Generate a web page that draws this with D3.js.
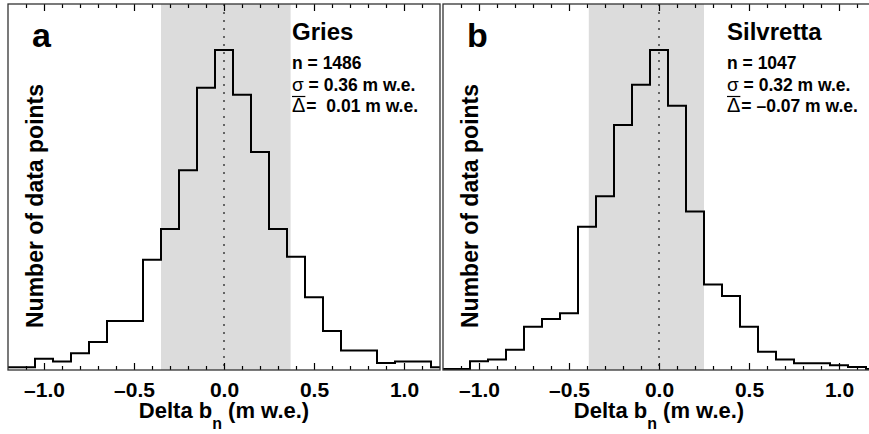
<!DOCTYPE html>
<html>
<head>
<meta charset="utf-8">
<script src="https://cdn.jsdelivr.net/npm/d3@7"></script>
<style>
  body { margin: 0; background: #fff; }
  svg { display: block; }
  text { font-family: "Liberation Sans", Arial, Helvetica, sans-serif; font-weight: bold; fill: #000; }
</style>
</head>
<body>
<div id="chart-area"></div>
<script>
// histogram bins (centres, m w.e.), 0.1 wide
var binCenters = [-1.0, -0.9, -0.8, -0.7, -0.6, -0.5, -0.4, -0.3, -0.2, -0.1, 0.0,
                  0.1, 0.2, 0.3, 0.4, 0.5, 0.6, 0.7, 0.8, 0.9, 1.0, 1.1];
var griesCounts = [6, 4, 10, 18, 33, 33, 77, 99, 141, 200, 227,
                   195, 154, 99, 79, 50, 26, 12, 12, 3, 4, 4];
var silvrettaCounts = [4, 5, 10, 22, 26, 29, 74, 90, 127, 148, 166,
                       137, 82, 44, 38, 22, 9, 5, 3, 3, 2, 1];

var panelLetters = ["a", "b"];
var glacierNames = ["Gries", "Silvretta"];
var nPoints = ["1486", "1047"];
var sigmas = [0.36, 0.32];
var means = [0.01, -0.07];
var meanLabels = ["\u00a0\u00a00.01", "\u00a0\u20130.07"];

var majorTicks = [-1.0, -0.5, 0.0, 0.5, 1.0];
var minorTicks = [-1.1, -0.9, -0.8, -0.7, -0.6, -0.4, -0.3, -0.2, -0.1,
                  0.1, 0.2, 0.3, 0.4, 0.6, 0.7, 0.8, 0.9, 1.1];

var xDomain = [-1.2, 1.2];
var yDomains = [[-2, 260], [-0.5, 190]];

// layout
var plotTop = 4, plotBottom = 370, panelWidth = 432;
var panelLefts = [8, 443];

var svg = d3.select("#chart-area").append("svg")
  .attr("width", 869)
  .attr("height", 434);

var fmt = function(d) { return d3.format(".1f")(d).replace("\u2212", "\u2013"); };

function drawPanel(i, counts) {
  var left = panelLefts[i];
  var x = d3.scaleLinear().domain(xDomain).range([left, left + panelWidth]);
  var y = d3.scaleLinear().domain(yDomains[i]).range([plotBottom, plotTop]);

  var g = svg.append("g");

  // +/- sigma band around the mean
  g.append("rect")
    .attr("x", x(means[i] - sigmas[i]))
    .attr("y", plotTop)
    .attr("width", x(means[i] + sigmas[i]) - x(means[i] - sigmas[i]))
    .attr("height", plotBottom - plotTop)
    .attr("fill", "#dcdcdc");

  // zero line
  g.append("line")
    .attr("x1", x(0)).attr("x2", x(0))
    .attr("y1", plotTop).attr("y2", plotBottom)
    .attr("stroke", "#333")
    .attr("stroke-width", 1.4)
    .attr("stroke-dasharray", "2,6");

  // step outline
  var pts = [[xDomain[0], 0]];
  binCenters.forEach(function(c, k) { pts.push([c - 0.05, counts[k]]); });
  pts.push([binCenters[binCenters.length - 1] + 0.05, 0]);
  pts.push([xDomain[1], 0]);

  var line = d3.line()
    .x(function(d) { return x(d[0]); })
    .y(function(d) { return y(d[1]); })
    .curve(d3.curveStepAfter);

  g.append("path")
    .attr("d", line(pts))
    .attr("fill", "none")
    .attr("stroke", "#000")
    .attr("stroke-width", 2);

  // axes (ticks inward)
  var bAxis = g.append("g").attr("transform", "translate(0," + plotBottom + ")")
    .call(d3.axisBottom(x).tickValues(majorTicks).tickSize(-7).tickFormat(fmt));
  bAxis.select(".domain").remove();
  bAxis.selectAll("text")
    .attr("y", 27).attr("dy", 0)
    .style("font-size", "21px");

  var bMinor = g.append("g").attr("transform", "translate(0," + plotBottom + ")")
    .call(d3.axisBottom(x).tickValues(minorTicks).tickSize(-4).tickFormat(""));
  bMinor.select(".domain").remove();

  var tAxis = g.append("g").attr("transform", "translate(0," + plotTop + ")")
    .call(d3.axisTop(x).tickValues(majorTicks).tickSize(-7).tickFormat(""));
  tAxis.select(".domain").remove();
  var tMinor = g.append("g").attr("transform", "translate(0," + plotTop + ")")
    .call(d3.axisTop(x).tickValues(minorTicks).tickSize(-4).tickFormat(""));
  tMinor.select(".domain").remove();

  g.selectAll(".tick line").attr("stroke", "#000").attr("stroke-width", 1.2);

  // frame
  g.append("rect")
    .attr("x", left).attr("y", plotTop)
    .attr("width", panelWidth).attr("height", plotBottom - plotTop)
    .attr("fill", "none")
    .attr("stroke", "#333")
    .attr("stroke-width", 1.3);

  // panel letter
  g.append("text")
    .attr("x", left + 24).attr("y", 47)
    .style("font-size", "34px")
    .text(panelLetters[i]);

  // y title
  g.append("text")
    .attr("transform", "translate(" + (left + 35) + "," + ((plotTop + plotBottom) / 2 + 19) + ") rotate(-90)")
    .attr("text-anchor", "middle")
    .style("font-size", "23px")
    .text("Number of data points");

  // x title
  var xt = g.append("text")
    .attr("x", x(0)).attr("y", 418)
    .attr("text-anchor", "middle")
    .style("font-size", "22px");
  xt.append("tspan").text("Delta b");
  xt.append("tspan").attr("dy", 11).style("font-size", "16px").text("n");
  xt.append("tspan").attr("dy", -11).text(" (m w.e.)");

  // stats block
  var sx = left + 284;
  g.append("text").attr("x", sx).attr("y", 40)
    .style("font-size", "24px").text(glacierNames[i]);
  g.append("text").attr("x", sx).attr("y", 69)
    .style("font-size", "17.5px").text("n = " + nPoints[i]);

  var st = g.append("text").attr("x", sx).attr("y", 91).style("font-size", "17.5px");
  st.append("tspan").style("font-weight", "normal").style("font-size", "19px").text("\u03c3");
  st.append("tspan").text(" = " + sigmas[i].toFixed(2) + " m w.e.");

  var dl = g.append("text").attr("x", sx).attr("y", 112)
    .style("font-size", "20px").style("font-weight", "normal").text("\u0394");
  var dw = dl.node().getComputedTextLength();
  g.append("line")
    .attr("x1", sx).attr("x2", sx + dw)
    .attr("y1", 96.5).attr("y2", 96.5)
    .attr("stroke", "#000").attr("stroke-width", 1.2);
  g.append("text").attr("x", sx + dw + 1).attr("y", 112)
    .style("font-size", "17.5px")
    .style("white-space", "pre")
    .text("=" + meanLabels[i] + " m w.e.");
}

drawPanel(0, griesCounts);
drawPanel(1, silvrettaCounts);
</script>
</body>
</html>
